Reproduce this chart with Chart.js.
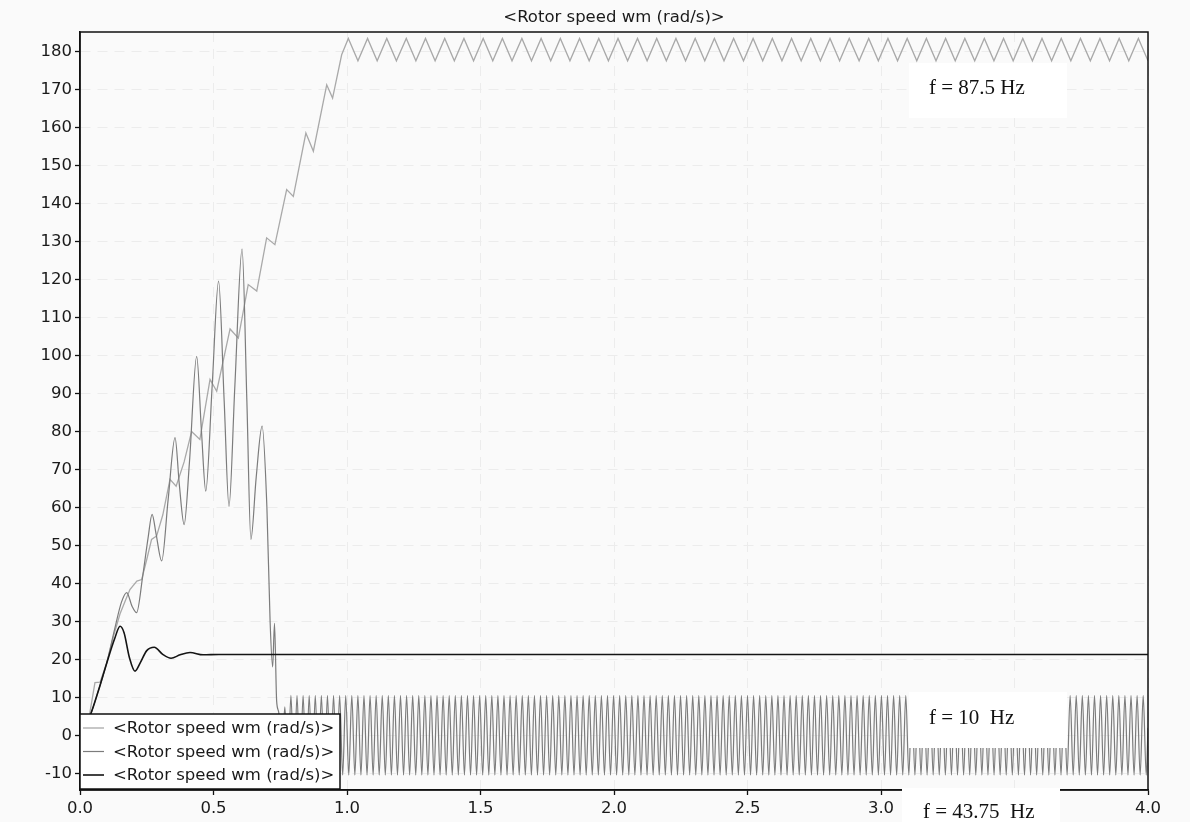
<!DOCTYPE html>
<html>
<head>
<meta charset="utf-8">
<title>Rotor speed wm</title>
<script src="https://cdn.jsdelivr.net/npm/chart.js@4.4.1/dist/chart.umd.min.js"></script>
<style>
  html, body { margin: 0; padding: 0; background: #fafafa; }
  #wrap { width: 1190px; height: 822px; }
</style>
</head>
<body>
<div id="wrap"><canvas id="speedChart" width="1190" height="822"></canvas></div>
<script>
const chartTitle = '<Rotor speed wm (rad/s)>';
const seriesLabels = ['<Rotor speed wm (rad/s)>', '<Rotor speed wm (rad/s)>', '<Rotor speed wm (rad/s)>'];
const noteLabels = ['f = 87.5 Hz', 'f = 10  Hz', 'f = 43.75  Hz'];

// speed 1 (light grey): staircase run-up, then ripple near 180
const aRampTime = [0, 0.02, 0.037, 0.056, 0.075, 0.1, 0.125, 0.15, 0.17, 0.187, 0.213, 0.231, 0.25, 0.268,
  0.287, 0.31, 0.337, 0.36, 0.39, 0.418, 0.449, 0.487, 0.512, 0.562, 0.593, 0.63, 0.662, 0.699,
  0.73, 0.774, 0.799, 0.846, 0.874, 0.924, 0.946, 0.98];
const aRampValue = [0, 1, 6, 13.9, 14, 19, 26, 32, 35.5, 38.4, 40.6, 41, 46.3, 51.6,
  52.5, 58, 67.4, 65.6, 72, 80, 77.9, 93.7, 90.6, 107, 104.6, 118.7, 117, 131,
  129.2, 143.7, 141.9, 158.6, 153.8, 171.3, 167.8, 179.2];
const aRippleTime = [
  1.005,1.041,1.077,1.113,1.149,1.185,1.222,1.258,1.294,1.330,
  1.366,1.402,1.438,1.474,1.510,1.546,1.582,1.618,1.655,1.691,
  1.727,1.763,1.799,1.835,1.871,1.907,1.943,1.979,2.015,2.051,
  2.088,2.124,2.160,2.196,2.232,2.268,2.304,2.340,2.376,2.412,
  2.448,2.485,2.521,2.557,2.593,2.629,2.665,2.701,2.737,2.773,
  2.809,2.845,2.881,2.918,2.954,2.990,3.026,3.062,3.098,3.134,
  3.170,3.206,3.242,3.278,3.314,3.351,3.387,3.423,3.459,3.495,
  3.531,3.567,3.603,3.639,3.675,3.711,3.747,3.784,3.820,3.856,
  3.892,3.928,3.964,4.000];
const aRippleValue = [
  183.5,177.6,183.5,177.6,183.5,177.6,183.5,177.6,183.5,177.6,
  183.5,177.6,183.5,177.6,183.5,177.6,183.5,177.6,183.5,177.6,
  183.5,177.6,183.5,177.6,183.5,177.6,183.5,177.6,183.5,177.6,
  183.5,177.6,183.5,177.6,183.5,177.6,183.5,177.6,183.5,177.6,
  183.5,177.6,183.5,177.6,183.5,177.6,183.5,177.6,183.5,177.6,
  183.5,177.6,183.5,177.6,183.5,177.6,183.5,177.6,183.5,177.6,
  183.5,177.6,183.5,177.6,183.5,177.6,183.5,177.6,183.5,177.6,
  183.5,177.6,183.5,177.6,183.5,177.6,183.5,177.6,183.5,177.6,
  183.5,177.6,183.5,177.6];

// speed 2 (mid grey): growing swing, collapse at ~0.72 s, then oscillation around 0
const bRampTime = [0, 0.037, 0.07, 0.1, 0.13, 0.155, 0.175, 0.195, 0.212, 0.235, 0.255, 0.27, 0.285,
  0.306, 0.33, 0.356, 0.372, 0.39, 0.41, 0.437, 0.455, 0.471, 0.495, 0.519, 0.54, 0.558,
  0.58, 0.607, 0.625, 0.64, 0.66, 0.682, 0.7, 0.712, 0.7215, 0.7285, 0.7365, 0.7444,
  0.7558, 0.7672, 0.7786];
const bRampValue = [0, 5, 12, 19, 28, 35, 37.6, 34, 32.3, 42, 52, 58.2, 53,
  45.9, 62, 78.4, 66, 55.5, 72, 99.8, 80, 64.3, 92, 119.6, 88, 60.3,
  92, 128, 88, 51.6, 68, 81.4, 60, 30, 18, 29.5, 9, 6,
  -6, 7.5, -9];
const bOscTime = [
  0.790,0.8014,0.8128,0.8242,0.8356,0.847,0.8584,0.8698,0.8812,0.8926,
  0.904,0.9154,0.9268,0.9382,0.9496,0.961,0.9724,0.9838,0.9952,1.0066,
  1.018,1.0294,1.0408,1.0522,1.0636,1.075,1.0864,1.0978,1.1092,1.1206,
  1.132,1.1434,1.1548,1.1662,1.1776,1.189,1.2004,1.2118,1.2232,1.2346,
  1.246,1.2574,1.2688,1.2802,1.2916,1.303,1.3144,1.3258,1.3372,1.3486,
  1.36,1.3714,1.3828,1.3942,1.4056,1.417,1.4284,1.4398,1.4512,1.4626,
  1.474,1.4854,1.4968,1.5082,1.5196,1.531,1.5424,1.5538,1.5652,1.5766,
  1.588,1.5994,1.6108,1.6222,1.6336,1.645,1.6564,1.6678,1.6792,1.6906,
  1.702,1.7134,1.7248,1.7362,1.7476,1.759,1.7704,1.7818,1.7932,1.8046,
  1.816,1.8274,1.8388,1.8502,1.8616,1.873,1.8844,1.8958,1.9072,1.9186,
  1.93,1.9414,1.9528,1.9642,1.9756,1.987,1.9984,2.0098,2.0212,2.0326,
  2.044,2.0554,2.0668,2.0782,2.0896,2.101,2.1124,2.1238,2.1352,2.1466,
  2.158,2.1694,2.1808,2.1922,2.2036,2.215,2.2264,2.2378,2.2492,2.2606,
  2.272,2.2834,2.2948,2.3062,2.3176,2.329,2.3404,2.3518,2.3632,2.3746,
  2.386,2.3974,2.4088,2.4202,2.4316,2.443,2.4544,2.4658,2.4772,2.4886,
  2.5,2.5114,2.5228,2.5342,2.5456,2.557,2.5684,2.5798,2.5912,2.6026,
  2.614,2.6254,2.6368,2.6482,2.6596,2.671,2.6824,2.6938,2.7052,2.7166,
  2.728,2.7394,2.7508,2.7622,2.7736,2.785,2.7964,2.8078,2.8192,2.8306,
  2.842,2.8534,2.8648,2.8762,2.8876,2.899,2.9104,2.9218,2.9332,2.9446,
  2.956,2.9674,2.9788,2.9902,3.0016,3.013,3.0244,3.0358,3.0472,3.0586,
  3.07,3.0814,3.0928,3.1042,3.1156,3.127,3.1384,3.1498,3.1612,3.1726,
  3.184,3.1954,3.2068,3.2182,3.2296,3.241,3.2524,3.2638,3.2752,3.2866,
  3.298,3.3094,3.3208,3.3322,3.3436,3.355,3.3664,3.3778,3.3892,3.4006,
  3.412,3.4234,3.4348,3.4462,3.4576,3.469,3.4804,3.4918,3.5032,3.5146,
  3.526,3.5374,3.5488,3.5602,3.5716,3.583,3.5944,3.6058,3.6172,3.6286,
  3.64,3.6514,3.6628,3.6742,3.6856,3.697,3.7084,3.7198,3.7312,3.7426,
  3.754,3.7654,3.7768,3.7882,3.7996,3.811,3.8224,3.8338,3.8452,3.8566,
  3.868,3.8794,3.8908,3.9022,3.9136,3.925,3.9364,3.9478,3.9592,3.9706,
  3.982,3.9934,4.0];
const bOscValue = [
  10.5,-10.5,10.5,-10.5,10.5,-10.5,10.5,-10.5,10.5,-10.5,
  10.5,-10.5,10.5,-10.5,10.5,-10.5,10.5,-10.5,10.5,-10.5,
  10.5,-10.5,10.5,-10.5,10.5,-10.5,10.5,-10.5,10.5,-10.5,
  10.5,-10.5,10.5,-10.5,10.5,-10.5,10.5,-10.5,10.5,-10.5,
  10.5,-10.5,10.5,-10.5,10.5,-10.5,10.5,-10.5,10.5,-10.5,
  10.5,-10.5,10.5,-10.5,10.5,-10.5,10.5,-10.5,10.5,-10.5,
  10.5,-10.5,10.5,-10.5,10.5,-10.5,10.5,-10.5,10.5,-10.5,
  10.5,-10.5,10.5,-10.5,10.5,-10.5,10.5,-10.5,10.5,-10.5,
  10.5,-10.5,10.5,-10.5,10.5,-10.5,10.5,-10.5,10.5,-10.5,
  10.5,-10.5,10.5,-10.5,10.5,-10.5,10.5,-10.5,10.5,-10.5,
  10.5,-10.5,10.5,-10.5,10.5,-10.5,10.5,-10.5,10.5,-10.5,
  10.5,-10.5,10.5,-10.5,10.5,-10.5,10.5,-10.5,10.5,-10.5,
  10.5,-10.5,10.5,-10.5,10.5,-10.5,10.5,-10.5,10.5,-10.5,
  10.5,-10.5,10.5,-10.5,10.5,-10.5,10.5,-10.5,10.5,-10.5,
  10.5,-10.5,10.5,-10.5,10.5,-10.5,10.5,-10.5,10.5,-10.5,
  10.5,-10.5,10.5,-10.5,10.5,-10.5,10.5,-10.5,10.5,-10.5,
  10.5,-10.5,10.5,-10.5,10.5,-10.5,10.5,-10.5,10.5,-10.5,
  10.5,-10.5,10.5,-10.5,10.5,-10.5,10.5,-10.5,10.5,-10.5,
  10.5,-10.5,10.5,-10.5,10.5,-10.5,10.5,-10.5,10.5,-10.5,
  10.5,-10.5,10.5,-10.5,10.5,-10.5,10.5,-10.5,10.5,-10.5,
  10.5,-10.5,10.5,-10.5,10.5,-10.5,10.5,-10.5,10.5,-10.5,
  10.5,-10.5,10.5,-10.5,10.5,-10.5,10.5,-10.5,10.5,-10.5,
  10.5,-10.5,10.5,-10.5,10.5,-10.5,10.5,-10.5,10.5,-10.5,
  10.5,-10.5,10.5,-10.5,10.5,-10.5,10.5,-10.5,10.5,-10.5,
  10.5,-10.5,10.5,-10.5,10.5,-10.5,10.5,-10.5,10.5,-10.5,
  10.5,-10.5,10.5,-10.5,10.5,-10.5,10.5,-10.5,10.5,-10.5,
  10.5,-10.5,10.5,-10.5,10.5,-10.5,10.5,-10.5,10.5,-10.5,
  10.5,-10.5,10.5,-10.5,10.5,-10.5,10.5,-10.5,10.5,-10.5,
  10.5,-10.5,2];

// speed 3 (black): damped settle at about 21
const cTime = [0, 0.037, 0.07, 0.1, 0.13, 0.15, 0.165, 0.185, 0.206, 0.225, 0.25, 0.278, 0.31,
  0.341, 0.375, 0.412, 0.461, 0.52, 4.0];
const cValue = [0, 5, 12, 19, 25.5, 28.7, 27, 20.5, 16.9, 19, 22.3, 23.2, 21.3,
  20.3, 21.2, 21.8, 21.2, 21.3, 21.3];

const seriesColors = ['#a9a9a9', '#7c7c7c', '#141414'];

function toPoints(times, values) {
  return times.map((t, i) => ({ x: t, y: values[i] }));
}

const axisFont = { family: '"DejaVu Sans", Verdana, sans-serif', size: 16.5 };
const gridLook = { color: '#ececec', lineWidth: 1, tickLength: 5, tickColor: '#111', tickWidth: 1.3 };
const borderLook = { color: '#111', width: 1.5, dash: [10, 7] };

const framePlugin = {
  id: 'framePlugin',
  beforeDraw(chart) {
    const ctx = chart.ctx;
    ctx.save();
    ctx.fillStyle = '#fafafa';
    ctx.fillRect(0, 0, chart.width, chart.height);
    ctx.restore();
  },
  afterDraw(chart) {
    const { ctx, chartArea: a } = chart;
    ctx.save();

    // title
    ctx.fillStyle = '#1a1a1a';
    ctx.font = '16.5px "DejaVu Sans", Verdana, sans-serif';
    ctx.textAlign = 'center';
    ctx.textBaseline = 'middle';
    ctx.fillText(chartTitle, (a.left + a.right) / 2, 18);

    // plot box
    ctx.strokeStyle = '#111';
    ctx.lineWidth = 1.5;
    ctx.strokeRect(a.left, a.top, a.right - a.left, a.bottom - a.top);

    // legend, bottom left inside the plot
    const lx = a.left, ly = a.bottom - 76, lw = 260, lh = 75;
    ctx.fillStyle = '#ffffff';
    ctx.fillRect(lx, ly, lw, lh);
    ctx.strokeRect(lx, ly, lw, lh);
    ctx.textAlign = 'left';
    chart.data.datasets.forEach((ds, i) => {
      const yy = ly + 14 + i * 23.5;
      ctx.strokeStyle = ds.borderColor;
      ctx.lineWidth = ds.borderWidth;
      ctx.beginPath();
      ctx.moveTo(lx + 3, yy);
      ctx.lineTo(lx + 24, yy);
      ctx.stroke();
      ctx.fillStyle = '#1a1a1a';
      ctx.fillText(ds.label, lx + 33, yy + 1);
    });

    // frequency notes on white patches
    ctx.font = '21px "Liberation Serif", "Times New Roman", serif';
    ctx.fillStyle = '#ffffff';
    ctx.fillRect(909, 63, 158, 55);
    ctx.fillRect(909, 692, 158, 56);
    ctx.fillRect(902, 788, 158, 34);
    ctx.fillStyle = '#111';
    ctx.fillText(noteLabels[0], 929, 88);
    ctx.fillText(noteLabels[1], 929, 718);
    ctx.fillText(noteLabels[2], 923, 812);
    ctx.restore();
  }
};

const ctx = document.getElementById('speedChart').getContext('2d');

const data = {
  datasets: [
    {
      label: seriesLabels[0],
      data: toPoints(aRampTime.concat(aRippleTime), aRampValue.concat(aRippleValue)),
      borderColor: seriesColors[0],
      borderWidth: 1.3,
      tension: 0,
      order: 3
    },
    {
      label: seriesLabels[1],
      data: toPoints(bRampTime.concat(bOscTime), bRampValue.concat(bOscValue)),
      borderColor: seriesColors[1],
      borderWidth: 1.2,
      cubicInterpolationMode: 'monotone',
      order: 2
    },
    {
      label: seriesLabels[2],
      data: toPoints(cTime, cValue),
      borderColor: seriesColors[2],
      borderWidth: 1.6,
      cubicInterpolationMode: 'monotone',
      order: 1
    }
  ]
};

const config = {
  type: 'line',
  data: data,
  options: {
    responsive: false,
    animation: false,
    events: [],
    layout: { padding: { left: 0, right: 42, top: 32, bottom: 0 } },
    elements: { point: { radius: 0 }, line: { fill: false } },
    plugins: { legend: { display: false }, title: { display: false }, tooltip: { enabled: false } },
    scales: {
      x: {
        type: 'linear',
        min: 0,
        max: 4,
        grid: gridLook,
        border: borderLook,
        ticks: {
          stepSize: 0.5,
          padding: 4,
          color: '#1a1a1a',
          font: axisFont,
          maxRotation: 0,
          callback: (value) => value.toFixed(1)
        },
        afterFit: (scale) => { scale.height = 32; }
      },
      y: {
        min: -14.4,
        max: 185.2,
        grid: gridLook,
        border: borderLook,
        ticks: {
          stepSize: 10,
          includeBounds: false,
          padding: 3,
          color: '#1a1a1a',
          font: axisFont
        },
        afterFit: (scale) => { scale.width = 80; }
      }
    }
  },
  plugins: [framePlugin]
};

const speedChart = new Chart(ctx, config);
</script>
</body>
</html>
